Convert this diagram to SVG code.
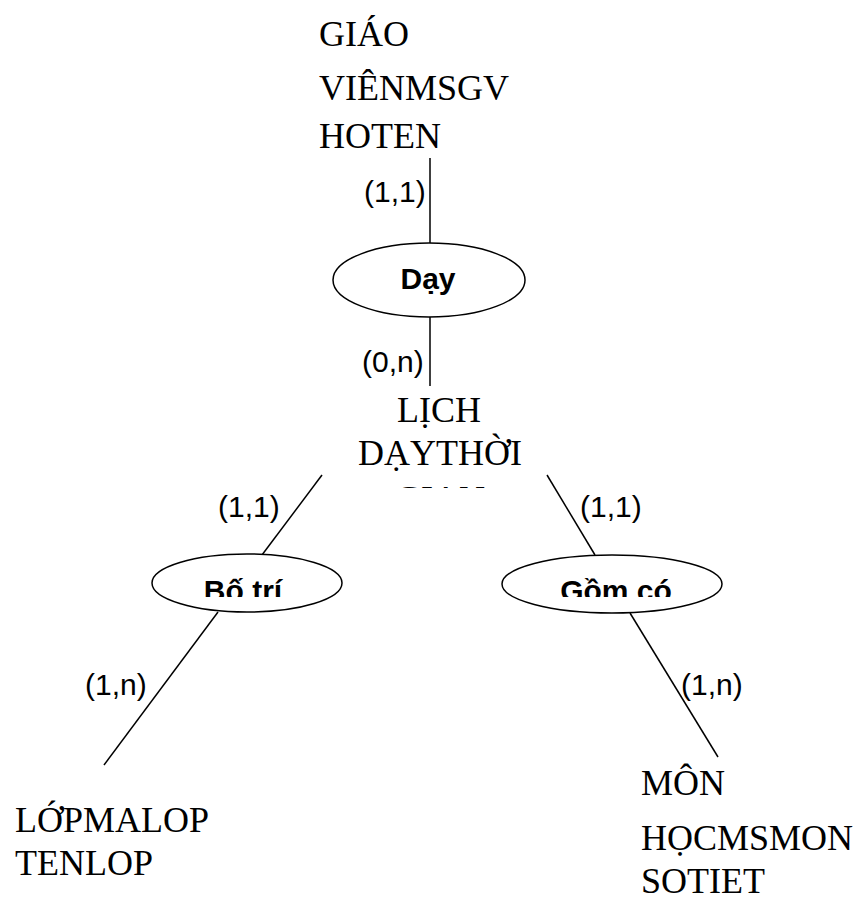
<svg xmlns="http://www.w3.org/2000/svg" width="863" height="900" viewBox="0 0 863 900">
<style>
.ent{font-family:"Liberation Serif","Times New Roman",serif;font-size:36px;fill:#000}
.rel{font-family:"Liberation Sans",Arial,sans-serif;font-size:30px;font-weight:bold;fill:#000;text-anchor:middle}
.card{font-family:"Liberation Sans",Arial,sans-serif;font-size:30px;fill:#000}
.shape{fill:#fff;stroke:#000;stroke-width:1.5}
.conn{stroke:#000;stroke-width:1.5;fill:none}
</style>
<defs>
<clipPath id="clipLich"><rect x="330" y="380" width="220" height="108"/></clipPath>
<clipPath id="clipBotri"><rect x="150" y="550" width="200" height="47"/></clipPath>
<clipPath id="clipGomco"><rect x="500" y="550" width="230" height="47"/></clipPath>
</defs>
<rect width="863" height="900" fill="#fff"/>
<g id="connectors">
<line class="conn" x1="430" y1="158" x2="430" y2="243"/>
<line class="conn" x1="430" y1="317" x2="430" y2="386"/>
<line class="conn" x1="322" y1="475" x2="262" y2="555"/>
<line class="conn" x1="218" y1="612" x2="104" y2="765"/>
<line class="conn" x1="547" y1="475" x2="595" y2="555"/>
<line class="conn" x1="630" y1="613" x2="718" y2="757"/>
<text class="card" x="364" y="202">(1,1)</text>
<text class="card" x="362" y="372">(0,n)</text>
<text class="card" x="218" y="517">(1,1)</text>
<text class="card" x="580" y="517">(1,1)</text>
<text class="card" x="85" y="695">(1,n)</text>
<text class="card" x="681" y="695">(1,n)</text>
</g>
<g id="giaovien">
<text class="ent" x="319" y="46">GIÁO</text>
<text class="ent" x="319" y="100">VIÊNMSGV</text>
<text class="ent" x="319" y="148">HOTEN</text>
</g>
<g id="day">
<ellipse class="shape" cx="429" cy="280" rx="96" ry="37"/>
<text class="rel" x="428" y="289">Dạy</text>
</g>
<g id="lichday" clip-path="url(#clipLich)">
<text class="ent" x="439" y="422" text-anchor="middle">LỊCH</text>
<text class="ent" x="440" y="465" text-anchor="middle">DẠYTHỜI</text>
<text class="ent" x="440" y="511" text-anchor="middle">GIAN</text>
</g>
<g id="botri">
<ellipse class="shape" cx="247" cy="583" rx="95" ry="29"/>
<text class="rel" x="243" y="601" clip-path="url(#clipBotri)">Bố trí</text>
</g>
<g id="gomco">
<ellipse class="shape" cx="612" cy="584" rx="110" ry="29"/>
<text class="rel" x="616" y="601" clip-path="url(#clipGomco)">Gồm có</text>
</g>
<g id="lop">
<text class="ent" x="15" y="832">LỚPMALOP</text>
<text class="ent" x="15" y="875">TENLOP</text>
</g>
<g id="monhoc">
<text class="ent" x="641" y="795">MÔN</text>
<text class="ent" x="641" y="850">HỌCMSMON</text>
<text class="ent" x="641" y="893">SOTIET</text>
</g>
</svg>
